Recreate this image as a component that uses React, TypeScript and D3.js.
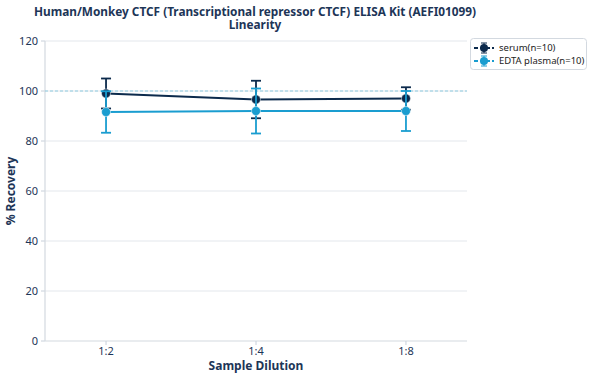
import React from "react";
import * as d3 from "d3";

const categories = ["1:2", "1:4", "1:8"];
const serumValues = [99, 96.6, 97];
const serumErr = [6, 7.5, 4.5];
const edtaValues = [91.6, 92, 92];
const edtaErr = [8.3, 9, 8];
const yTicks = [0, 20, 40, 60, 80, 100, 120];
const seriesNames = ["serum(n=10)", "EDTA plasma(n=10)"];

const W = 590, H = 380;
const m = { l: 45, r: 123, t: 41, b: 39 };
const SERUM = "#0c2a4c";
const EDTA = "#1a9dd0";
const TEXT = "#1d3557";
const FONT = "'Noto Sans', 'Open Sans', sans-serif";

export default function App() {
  const x = d3.scalePoint<string>().domain(categories).range([m.l, W - m.r]).padding(0.407);
  const y = d3.scaleLinear().domain([0, 120]).range([H - m.b, m.t]);
  const line = d3.line<number>().x((_, i) => x(categories[i])!).y((d) => y(d));
  const series = [
    { name: seriesNames[0], vals: serumValues, err: serumErr, color: SERUM },
    { name: seriesNames[1], vals: edtaValues, err: edtaErr, color: EDTA },
  ];
  const cap = 5;
  return (
    <svg width={W} height={H} style={{ position: "absolute", left: 0, top: 0, fontFamily: FONT }}>
      <rect width={W} height={H} fill="#fff" />
      {yTicks.map((t) => (
        <g key={t}>
          {t > 0 && <line x1={m.l} x2={W - m.r} y1={y(t)} y2={y(t)} stroke="#e3e7ec" strokeWidth={1} />}
          <line x1={m.l - 4} x2={m.l} y1={y(t)} y2={y(t)} stroke="#c8d0da" />
          <text x={m.l - 7} y={y(t)} dy="0.35em" textAnchor="end" fontSize={11} fill={TEXT}>{t}</text>
        </g>
      ))}
      <line x1={m.l} x2={m.l} y1={m.t} y2={H - m.b} stroke="#d3d9e0" strokeWidth={1.2} />
      <line x1={m.l} x2={W - m.r} y1={H - m.b} y2={H - m.b} stroke="#d3d9e0" strokeWidth={1.2} />
      {categories.map((c) => (
        <g key={c}>
          <line x1={x(c)} x2={x(c)} y1={H - m.b} y2={H - m.b + 4} stroke="#c8d0da" />
          <text x={x(c)} y={H - m.b + 14} textAnchor="middle" fontSize={11} fill={TEXT}>{c}</text>
        </g>
      ))}
      <line x1={m.l} x2={W - m.r} y1={y(100)} y2={y(100)} stroke="#8fcbe0" strokeDasharray="3,2" strokeWidth={1} />
      {series.map((s) => (
        <g key={s.name}>
          {s.vals.map((v, i) => {
            const cx = x(categories[i])!;
            return (
              <g key={i} stroke={s.color} strokeWidth={1.8}>
                <line x1={cx} x2={cx} y1={y(v - s.err[i])} y2={y(v + s.err[i])} />
                <line x1={cx - cap} x2={cx + cap} y1={y(v - s.err[i])} y2={y(v - s.err[i])} />
                <line x1={cx - cap} x2={cx + cap} y1={y(v + s.err[i])} y2={y(v + s.err[i])} />
              </g>
            );
          })}
          <path d={line(s.vals)!} fill="none" stroke={s.color} strokeWidth={2} />
          {s.vals.map((v, i) => (
            <circle key={i} cx={x(categories[i])} cy={y(v)} r={4.5} fill={s.color} stroke="#fff" strokeWidth={0.5} />
          ))}
        </g>
      ))}
      <text x={255} y={15.5} textAnchor="middle" fontSize={11.8} fontWeight="bold" fill={TEXT}>
        Human/Monkey CTCF (Transcriptional repressor CTCF) ELISA Kit (AEFI01099)
      </text>
      <text x={255} y={29} textAnchor="middle" fontSize={11.8} fontWeight="bold" fill={TEXT}>Linearity</text>
      <text x={256} y={370} textAnchor="middle" fontSize={12} fontWeight="bold" fill={TEXT}>Sample Dilution</text>
      <text transform={`translate(15,${y(60)}) rotate(-90)`} textAnchor="middle" fontSize={12} fontWeight="bold" fill={TEXT}>% Recovery</text>
      <g>
        <rect x={470.5} y={38.5} width={116} height={31} rx={3} fill="#fff" stroke="#d3d9e0" />
        {series.map((s, i) => {
          const ly = 48 + i * 13;
          return (
            <g key={s.name}>
              <line x1={474} x2={494} y1={ly} y2={ly} stroke={s.color} strokeWidth={2} strokeDasharray="4,2" />
              <line x1={484} x2={484} y1={ly - 5} y2={ly + 5} stroke={s.color} strokeWidth={1} />
              <line x1={481} x2={487} y1={ly - 5} y2={ly - 5} stroke={s.color} strokeWidth={1} />
              <line x1={481} x2={487} y1={ly + 5} y2={ly + 5} stroke={s.color} strokeWidth={1} />
              <circle cx={484} cy={ly} r={4} fill={s.color} />
              <text x={499} y={ly} dy="0.35em" fontSize={9.5} fill="#222">{s.name}</text>
            </g>
          );
        })}
      </g>
    </svg>
  );
}
